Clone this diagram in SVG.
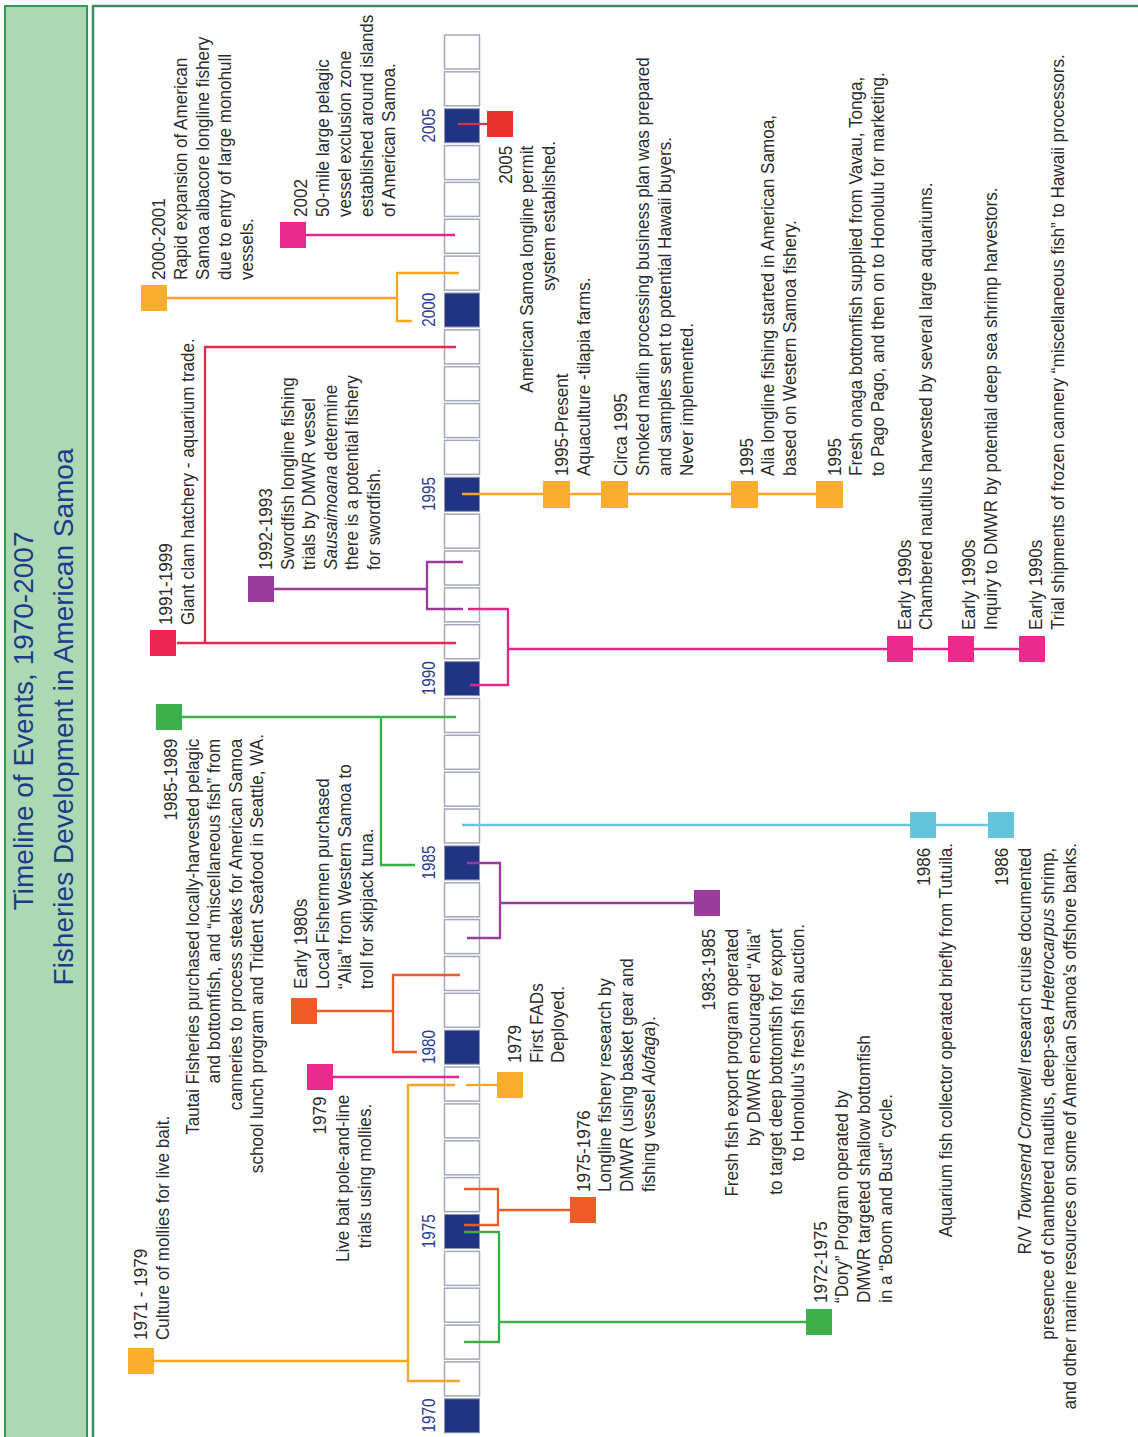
<svg xmlns="http://www.w3.org/2000/svg" width="1138" height="1437" viewBox="0 0 1138 1437">
  <style>
    .t { font-family: "Liberation Sans", Arial, sans-serif; font-size: 19px; fill: #2b2b2b; }
    .e { text-anchor: end; }
    .m { text-anchor: middle; }
    .i { font-style: italic; }
    .yr { font-family: "Liberation Sans", Arial, sans-serif; font-size: 18px; fill: #2b3c8e; text-anchor: middle; }
    .ttl { font-family: "Liberation Sans", Arial, sans-serif; font-size: 28px; fill: #1f3a8a; text-anchor: middle; }
    .cell { fill: #ffffff; stroke: #a3a8bc; stroke-width: 1.5; }
    .nv { fill: #1f3583; stroke: #8f96b4; stroke-width: 1; }
    .c { fill: none; stroke-width: 2.3; }
    .or { fill: #fbad2f; } .orL { stroke: #f6a623; }
    .pk { fill: #ec2a8e; } .pkL { stroke: #e0288a; }
    .cr { fill: #ec2452; } .crL { stroke: #e5264f; }
    .pu { fill: #9b3b9c; } .puL { stroke: #993d98; }
    .gr { fill: #3db04b; } .grL { stroke: #3aaf48; }
    .og { fill: #ef5b27; } .ogL { stroke: #ef5a28; }
    .cy { fill: #63c4dc; } .cyL { stroke: #67c5dd; }
    .rd { fill: #e8312b; } .rdL { stroke: #d6334a; }
  </style>

  <rect x="0" y="0" width="1138" height="1437" fill="#ffffff"/>

  <!-- title panel -->
  <g id="title">
    <rect x="5" y="6" width="82" height="1440" fill="#acd9b3" stroke="#2e9a4e" stroke-width="2"/>
    <text class="ttl" transform="translate(33 717) rotate(-90)">
      <tspan x="0" y="0">Timeline of Events, 1970-2007</tspan>
      <tspan x="0" y="40">Fisheries Development in American Samoa</tspan>
    </text>
  </g>

  <!-- main panel -->
  <rect x="93" y="6" width="1060" height="1440" fill="#ffffff" stroke="#3c8c60" stroke-width="2.5"/>

  <!-- year scale -->
  <g id="timeline">
    <rect class="nv" x="444.5" y="1398.8" width="35" height="34"/>
    <rect class="cell" x="444.5" y="1361.9" width="35" height="34"/>
    <rect class="cell" x="444.5" y="1325.1" width="35" height="34"/>
    <rect class="cell" x="444.5" y="1288.2" width="35" height="34"/>
    <rect class="cell" x="444.5" y="1251.4" width="35" height="34"/>
    <rect class="nv" x="444.5" y="1214.5" width="35" height="34"/>
    <rect class="cell" x="444.5" y="1177.6" width="35" height="34"/>
    <rect class="cell" x="444.5" y="1140.8" width="35" height="34"/>
    <rect class="cell" x="444.5" y="1103.9" width="35" height="34"/>
    <rect class="cell" x="444.5" y="1067.1" width="35" height="34"/>
    <rect class="nv" x="444.5" y="1030.2" width="35" height="34"/>
    <rect class="cell" x="444.5" y="993.3" width="35" height="34"/>
    <rect class="cell" x="444.5" y="956.5" width="35" height="34"/>
    <rect class="cell" x="444.5" y="919.6" width="35" height="34"/>
    <rect class="cell" x="444.5" y="882.8" width="35" height="34"/>
    <rect class="nv" x="444.5" y="845.9" width="35" height="34"/>
    <rect class="cell" x="444.5" y="809.0" width="35" height="34"/>
    <rect class="cell" x="444.5" y="772.2" width="35" height="34"/>
    <rect class="cell" x="444.5" y="735.3" width="35" height="34"/>
    <rect class="cell" x="444.5" y="698.5" width="35" height="34"/>
    <rect class="nv" x="444.5" y="661.6" width="35" height="34"/>
    <rect class="cell" x="444.5" y="624.7" width="35" height="34"/>
    <rect class="cell" x="444.5" y="587.9" width="35" height="34"/>
    <rect class="cell" x="444.5" y="551.0" width="35" height="34"/>
    <rect class="cell" x="444.5" y="514.2" width="35" height="34"/>
    <rect class="nv" x="444.5" y="477.3" width="35" height="34"/>
    <rect class="cell" x="444.5" y="440.4" width="35" height="34"/>
    <rect class="cell" x="444.5" y="403.6" width="35" height="34"/>
    <rect class="cell" x="444.5" y="366.7" width="35" height="34"/>
    <rect class="cell" x="444.5" y="329.9" width="35" height="34"/>
    <rect class="nv" x="444.5" y="293.0" width="35" height="34"/>
    <rect class="cell" x="444.5" y="256.1" width="35" height="34"/>
    <rect class="cell" x="444.5" y="219.3" width="35" height="34"/>
    <rect class="cell" x="444.5" y="182.4" width="35" height="34"/>
    <rect class="cell" x="444.5" y="145.6" width="35" height="34"/>
    <rect class="nv" x="444.5" y="108.7" width="35" height="34"/>
    <rect class="cell" x="444.5" y="71.8" width="35" height="34"/>
    <rect class="cell" x="444.5" y="35.0" width="35" height="34"/>

    <text class="yr" transform="translate(435 1415.5) rotate(-90) scale(0.85 1)">1970</text>
    <text class="yr" transform="translate(435 1231.2) rotate(-90) scale(0.85 1)">1975</text>
    <text class="yr" transform="translate(435 1046.9) rotate(-90) scale(0.85 1)">1980</text>
    <text class="yr" transform="translate(435 862.6) rotate(-90) scale(0.85 1)">1985</text>
    <text class="yr" transform="translate(435 678.3) rotate(-90) scale(0.85 1)">1990</text>
    <text class="yr" transform="translate(435 494) rotate(-90) scale(0.85 1)">1995</text>
    <text class="yr" transform="translate(435 309.7) rotate(-90) scale(0.85 1)">2000</text>
    <text class="yr" transform="translate(435 125.4) rotate(-90) scale(0.85 1)">2005</text>
  </g>

  <!-- connectors -->
  <g id="connectors">
    <path class="c orL" d="M154 1361 H408 M460 1381 H408 V1085 H455"/>
    <path class="c pkL" d="M333 1077 H459"/>
    <path class="c orL" d="M466 1085 H497"/>
    <path class="c ogL" d="M464 1189 H498 V1225 H464 M498 1210 H570"/>
    <path class="c grL" d="M464 1232 H499 V1342 H464 M499 1322 H806"/>
    <path class="c ogL" d="M317 1011 H393 M460 975 H393 V1052 H417"/>
    <path class="c puL" d="M467 863 H500 V938 H467 M500 903 H694"/>
    <path class="c cyL" d="M462 825 H1000"/>
    <path class="c grL" d="M182 717 H456 M381 717 V865 H415"/>
    <path class="c pkL" d="M468 609 H508 V685 H470 M508 649 H1040"/>
    <path class="c crL" d="M177 643 H456 M456 347 H205 V643"/>
    <path class="c puL" d="M274 589 H427 M463 562 H427 V609 H463"/>
    <path class="c orL" d="M462 494 H842"/>
    <path class="c orL" d="M167 298 H397 M459 273 H397 V321 H412"/>
    <path class="c pkL" d="M306 235 H455"/>
    <path class="c rdL" d="M458 124 H487"/>
  </g>

  <!-- events -->
  <g id="e1971">
    <rect class="or" x="128" y="1348" width="26" height="26"/>
    <text class="t" transform="translate(147 1340) rotate(-90) scale(0.9 1)">
      <tspan x="0" y="0">1971 - 1979</tspan>
      <tspan x="0" y="22">Culture of mollies for live bait.</tspan>
    </text>
  </g>

  <g id="e1979-bait">
    <rect class="pk" x="307" y="1064" width="26" height="26"/>
    <text class="t m" transform="translate(326 1176) rotate(-90) scale(0.9 1)">
      <tspan x="70" y="0">1979</tspan>
      <tspan x="0" y="23">Live bait pole-and-line</tspan>
      <tspan x="0" y="45">trials using mollies.</tspan>
    </text>
  </g>

  <g id="e1979-fads">
    <rect class="or" x="497" y="1072" width="26" height="26"/>
    <text class="t" transform="translate(521 1063) rotate(-90) scale(0.9 1)">
      <tspan x="0" y="0">1979</tspan>
      <tspan x="0" y="22">First FADs</tspan>
      <tspan x="0" y="43">Deployed.</tspan>
    </text>
  </g>

  <g id="e1975">
    <rect class="og" x="570" y="1197" width="26" height="26"/>
    <text class="t" transform="translate(590 1192) rotate(-90) scale(0.9 1)">
      <tspan x="0" y="0">1975-1976</tspan>
      <tspan x="0" y="21">Longline fishery research by</tspan>
      <tspan x="0" y="43">DMWR (using basket gear and</tspan>
      <tspan x="0" y="65">fishing vessel <tspan class="i">Alofaga</tspan>).</tspan>
    </text>
  </g>

  <g id="e1972">
    <rect class="gr" x="806" y="1309" width="26" height="26"/>
    <text class="t" transform="translate(827 1303) rotate(-90) scale(0.9 1)">
      <tspan x="0" y="0">1972-1975</tspan>
      <tspan x="0" y="21">“Dory” Program operated by</tspan>
      <tspan x="0" y="43">DMWR targeted shallow bottomfish</tspan>
      <tspan x="0" y="65">in a “Boom and Bust” cycle.</tspan>
    </text>
  </g>

  <g id="e1980s">
    <rect class="og" x="291" y="998" width="26" height="26"/>
    <text class="t" transform="translate(307 989) rotate(-90) scale(0.9 1)">
      <tspan x="0" y="0">Early 1980s</tspan>
      <tspan x="0" y="22">Local Fishermen purchased</tspan>
      <tspan x="0" y="44">“Alia” from Western Samoa to</tspan>
      <tspan x="0" y="66">troll for skipjack tuna.</tspan>
    </text>
  </g>

  <g id="e1983">
    <rect class="pu" x="694" y="890" width="26" height="26"/>
    <text class="t e" transform="translate(715 924) rotate(-90) scale(0.9 1)">
      <tspan x="0" y="0">1983-1985</tspan>
      <tspan x="0" y="23">Fresh fish export program operated</tspan>
      <tspan x="0" y="45">by DMWR encouraged “Alia”</tspan>
      <tspan x="0" y="67">to target deep bottomfish for export</tspan>
      <tspan x="0" y="89">to Honolulu’s fresh fish auction.</tspan>
    </text>
  </g>

  <g id="e1985">
    <rect class="gr" x="156" y="704" width="26" height="26"/>
    <text class="t e" transform="translate(177 734) rotate(-90) scale(0.9 1)">
      <tspan x="0" y="0">1985-1989</tspan>
      <tspan x="0" y="22">Tautai Fisheries purchased locally-harvested pelagic</tspan>
      <tspan x="0" y="43">and bottomfish, and “miscellaneous fish” from</tspan>
      <tspan x="0" y="65">canneries to process steaks for American Samoa</tspan>
      <tspan x="0" y="86">school lunch program and Trident Seafood in Seattle, WA.</tspan>
    </text>
  </g>

  <g id="e1986-aquarium">
    <rect class="cy" x="910" y="812" width="26" height="26"/>
    <text class="t e" transform="translate(930 843) rotate(-90) scale(0.9 1)">
      <tspan x="0" y="0">1986</tspan>
      <tspan x="0" y="22">Aquarium fish collector operated briefly from Tutuila.</tspan>
    </text>
  </g>

  <g id="e1986-cruise">
    <rect class="cy" x="988" y="812" width="26" height="26"/>
    <text class="t e" transform="translate(1008 843) rotate(-90) scale(0.9 1)">
      <tspan x="0" y="0">1986</tspan>
      <tspan x="0" y="23">R/V <tspan class="i">Townsend Cromwell</tspan> research cruise documented</tspan>
      <tspan x="0" y="46">presence of chambered nautilus, deep-sea <tspan class="i">Heterocarpus</tspan> shrimp,</tspan>
      <tspan x="0" y="68">and other marine resources on some of American Samoa’s offshore banks.</tspan>
    </text>
  </g>

  <g id="e1991">
    <rect class="cr" x="150" y="630" width="26" height="26"/>
    <text class="t" transform="translate(172 625) rotate(-90) scale(0.9 1)">
      <tspan x="0" y="0">1991-1999</tspan>
      <tspan x="0" y="22">Giant clam hatchery - aquarium trade.</tspan>
    </text>
  </g>

  <g id="e1992">
    <rect class="pu" x="248" y="576" width="26" height="26"/>
    <text class="t" transform="translate(272 570) rotate(-90) scale(0.9 1)">
      <tspan x="0" y="0">1992-1993</tspan>
      <tspan x="0" y="22">Swordfish longline fishing</tspan>
      <tspan x="0" y="43">trials by DMWR vessel</tspan>
      <tspan x="0" y="65"><tspan class="i">Sausaimoana</tspan> determine</tspan>
      <tspan x="0" y="86">there is a potential fishery</tspan>
      <tspan x="0" y="108">for swordfish.</tspan>
    </text>
  </g>

  <g id="e1990s-nautilus">
    <rect class="pk" x="887" y="636" width="26" height="26"/>
    <text class="t" transform="translate(911 630) rotate(-90) scale(0.9 1)">
      <tspan x="0" y="0">Early 1990s</tspan>
      <tspan x="0" y="21">Chambered nautilus harvested by several large aquariums.</tspan>
    </text>
  </g>

  <g id="e1990s-shrimp">
    <rect class="pk" x="948" y="636" width="26" height="26"/>
    <text class="t" transform="translate(975 630) rotate(-90) scale(0.9 1)">
      <tspan x="0" y="0">Early 1990s</tspan>
      <tspan x="0" y="22">Inquiry to DMWR by potential deep sea shrimp harvestors.</tspan>
    </text>
  </g>

  <g id="e1990s-cannery">
    <rect class="pk" x="1019" y="636" width="26" height="26"/>
    <text class="t" transform="translate(1042 630) rotate(-90) scale(0.9 1)">
      <tspan x="0" y="0">Early 1990s</tspan>
      <tspan x="0" y="22">Trial shipments of frozen cannery “miscellaneous fish” to Hawaii processors.</tspan>
    </text>
  </g>

  <g id="e1995-aquaculture">
    <rect class="or" x="543" y="481" width="27" height="27"/>
    <text class="t" transform="translate(568 476) rotate(-90) scale(0.9 1)">
      <tspan x="0" y="0">1995-Present</tspan>
      <tspan x="0" y="22">Aquaculture -tilapia farms.</tspan>
    </text>
  </g>

  <g id="e1995-marlin">
    <rect class="or" x="601" y="481" width="27" height="27"/>
    <text class="t" transform="translate(627 476) rotate(-90) scale(0.9 1)">
      <tspan x="0" y="0">Circa 1995</tspan>
      <tspan x="0" y="22">Smoked marlin processing business plan was prepared</tspan>
      <tspan x="0" y="44">and samples sent to potential Hawaii buyers.</tspan>
      <tspan x="0" y="66">Never implemented.</tspan>
    </text>
  </g>

  <g id="e1995-alia">
    <rect class="or" x="731" y="481" width="27" height="27"/>
    <text class="t" transform="translate(753 476) rotate(-90) scale(0.9 1)">
      <tspan x="0" y="0">1995</tspan>
      <tspan x="0" y="21">Alia longline fishing started in American Samoa,</tspan>
      <tspan x="0" y="43">based on Western Samoa fishery.</tspan>
    </text>
  </g>

  <g id="e1995-onaga">
    <rect class="or" x="816" y="481" width="27" height="27"/>
    <text class="t" transform="translate(841 476) rotate(-90) scale(0.9 1)">
      <tspan x="0" y="0">1995</tspan>
      <tspan x="0" y="21">Fresh onaga bottomfish supplied from Vavau, Tonga,</tspan>
      <tspan x="0" y="43">to Pago Pago, and then on to Honolulu for marketing.</tspan>
    </text>
  </g>

  <g id="e2000">
    <rect class="or" x="141" y="285" width="26" height="26"/>
    <text class="t" transform="translate(165 280) rotate(-90) scale(0.9 1)">
      <tspan x="0" y="0">2000-2001</tspan>
      <tspan x="0" y="22">Rapid expansion of American</tspan>
      <tspan x="0" y="44">Samoa albacore longline fishery</tspan>
      <tspan x="0" y="66">due to entry of large monohull</tspan>
      <tspan x="0" y="88">vessels.</tspan>
    </text>
  </g>

  <g id="e2002">
    <rect class="pk" x="280" y="222" width="26" height="26"/>
    <text class="t" transform="translate(307 217) rotate(-90) scale(0.9 1)">
      <tspan x="0" y="0">2002</tspan>
      <tspan x="0" y="22">50-mile large pelagic</tspan>
      <tspan x="0" y="44">vessel exclusion zone</tspan>
      <tspan x="0" y="66">established around islands</tspan>
      <tspan x="0" y="88">of American Samoa.</tspan>
    </text>
  </g>

  <g id="e2005">
    <rect class="rd" x="487" y="111" width="26" height="26"/>
    <text class="t e" transform="translate(512 141) rotate(-90) scale(0.9 1)">
      <tspan x="0" y="0">2005</tspan>
      <tspan x="0" y="21">American Samoa longline permit</tspan>
      <tspan x="0" y="43">system established.</tspan>
    </text>
  </g>
</svg>
